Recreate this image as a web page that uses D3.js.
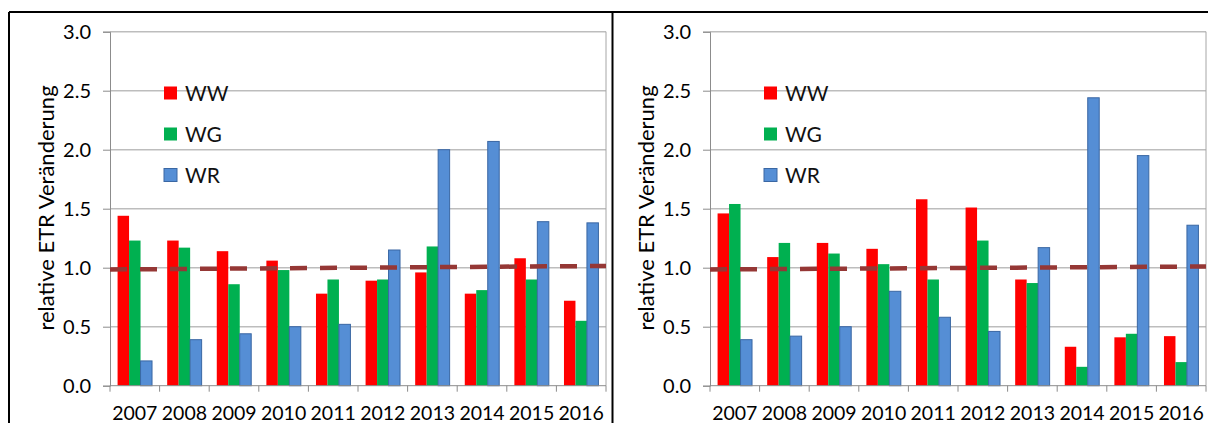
<!DOCTYPE html>
<html>
<head>
<meta charset="utf-8">
<script src="https://cdn.jsdelivr.net/npm/d3@7"></script>
<style>
  body { margin: 0; background: #fff; }
  svg { display: block; font-family: Lato, "Open Sans", sans-serif; }
</style>
</head>
<body>
<svg id="chart" width="1208" height="423"></svg>
<script>
const years = ["2007", "2008", "2009", "2010", "2011", "2012", "2013", "2014", "2015", "2016"];
const seriesNames = ["WW", "WG", "WR"];
const seriesColors = ["#ff0000", "#00b050", "#558ed5"];
const yTicks = [0, 0.5, 1.0, 1.5, 2.0, 2.5, 3.0];

// left panel
const leftWW = [1.44, 1.23, 1.14, 1.06, 0.78, 0.89, 0.96, 0.78, 1.08, 0.72];
const leftWG = [1.23, 1.17, 0.86, 0.98, 0.90, 0.90, 1.18, 0.81, 0.90, 0.55];
const leftWR = [0.21, 0.39, 0.44, 0.50, 0.52, 1.15, 2.00, 2.07, 1.39, 1.38];
const leftTrend = [0.985, 1.015];

// right panel
const rightWW = [1.46, 1.09, 1.21, 1.16, 1.58, 1.51, 0.90, 0.33, 0.41, 0.42];
const rightWG = [1.54, 1.21, 1.12, 1.03, 0.90, 1.23, 0.87, 0.16, 0.44, 0.20];
const rightWR = [0.39, 0.42, 0.50, 0.80, 0.58, 0.46, 1.17, 2.44, 1.95, 1.36];
const rightTrend = [0.985, 1.01];

const svg = d3.select("#chart");

// outer frame lines
svg.append("line").attr("x1", 9).attr("x2", 1208).attr("y1", 12).attr("y2", 12)
    .attr("stroke", "#000").attr("stroke-width", 2);
svg.append("line").attr("x1", 9).attr("x2", 9).attr("y1", 12).attr("y2", 423)
    .attr("stroke", "#000").attr("stroke-width", 2);
svg.append("line").attr("x1", 612.5).attr("x2", 612.5).attr("y1", 12).attr("y2", 423)
    .attr("stroke", "#000").attr("stroke-width", 2);

function drawPanel (offsetX, ww, wg, wr, trend) {
    const g = svg.append("g").attr("transform", `translate(${offsetX},0)`);
    const left = 110, right = 606, top = 31.7, bottom = 385.7;

    const x = d3.scaleBand().domain(years).range([left, right]).padding(0);
    const xs = d3.scaleBand().domain(seriesNames).range([0, x.bandwidth()])
        .paddingInner(0).paddingOuter(0.66);
    const y = d3.scaleLinear().domain([0, 3]).range([bottom, top]);

    // gridlines
    g.append("g").selectAll("line")
        .data(yTicks.filter(d => d > 0))
        .join("line")
        .attr("x1", left).attr("x2", right)
        .attr("y1", d => y(d)).attr("y2", d => y(d))
        .attr("stroke", "#bdbdbd").attr("stroke-width", 1.5);

    // right border
    g.append("line").attr("x1", right).attr("x2", right).attr("y1", top).attr("y2", bottom)
        .attr("stroke", "#a6a6a6");

    // y axis
    const yAxis = g.append("g").attr("transform", `translate(${left},0)`)
        .call(d3.axisLeft(y).tickValues(yTicks).tickFormat(d3.format(".1f")).tickSize(7).tickPadding(12));
    yAxis.select(".domain").attr("stroke", "#8c8c8c");
    yAxis.selectAll(".tick line").attr("stroke", "#8c8c8c");
    yAxis.selectAll(".tick text").attr("font-size", 20).attr("fill", "#000")
        .attr("font-family", "Lato, sans-serif");

    // bars
    const rows = years.map((yr, i) => ({year: yr, vals: [ww[i], wg[i], wr[i]]}));
    g.append("g").selectAll("g")
        .data(rows)
        .join("g")
        .attr("transform", d => `translate(${x(d.year)},0)`)
        .selectAll("rect")
        .data(d => d.vals.map((v, k) => ({name: seriesNames[k], value: v, k})))
        .join("rect")
        .attr("x", d => xs(d.name))
        .attr("y", d => y(d.value))
        .attr("width", xs.bandwidth())
        .attr("height", d => y(0) - y(d.value))
        .attr("fill", d => seriesColors[d.k])
        .attr("stroke", d => d.k === 2 ? "#3a67a3" : "none")
        .attr("stroke-width", 1);

    // x axis line + boundary ticks
    g.append("line").attr("x1", left).attr("x2", right).attr("y1", bottom).attr("y2", bottom)
        .attr("stroke", "#8c8c8c");
    const bounds = years.map(d => x(d)).concat([right]);
    g.append("g").selectAll("line")
        .data(bounds)
        .join("line")
        .attr("x1", d => d).attr("x2", d => d)
        .attr("y1", bottom).attr("y2", bottom + 6)
        .attr("stroke", "#8c8c8c");
    g.append("g").selectAll("text")
        .data(years)
        .join("text")
        .attr("x", d => x(d) + x.bandwidth() / 2)
        .attr("y", 420)
        .attr("text-anchor", "middle")
        .attr("font-size", 19.5)
        .text(d => d);

    // dashed trend line
    g.append("line")
        .attr("x1", left).attr("x2", right)
        .attr("y1", y(trend[0])).attr("y2", y(trend[1]))
        .attr("stroke", "#953735").attr("stroke-width", 4.5)
        .attr("stroke-dasharray", "17,13");

    // y title
    g.append("text")
        .attr("transform", "translate(54,208) rotate(-90)")
        .attr("text-anchor", "middle")
        .attr("font-size", 22)
        .text("relative ETR Veränderung");

    // legend
    const leg = g.append("g").selectAll("g")
        .data(seriesNames)
        .join("g")
        .attr("transform", (d, i) => `translate(164,${93 + i * 41})`);
    leg.append("rect")
        .attr("x", 0).attr("y", -6.5).attr("width", 13).attr("height", 13)
        .attr("fill", (d, i) => seriesColors[i])
        .attr("stroke", (d, i) => i === 2 ? "#3a67a3" : "none");
    leg.append("text")
        .attr("x", 21).attr("y", 0).attr("dy", "0.36em")
        .attr("font-size", 21).attr("fill", "#111")
        .text(d => d);
}

drawPanel(0, leftWW, leftWG, leftWR, leftTrend);
drawPanel(600, rightWW, rightWG, rightWR, rightTrend);
</script>
</body>
</html>
